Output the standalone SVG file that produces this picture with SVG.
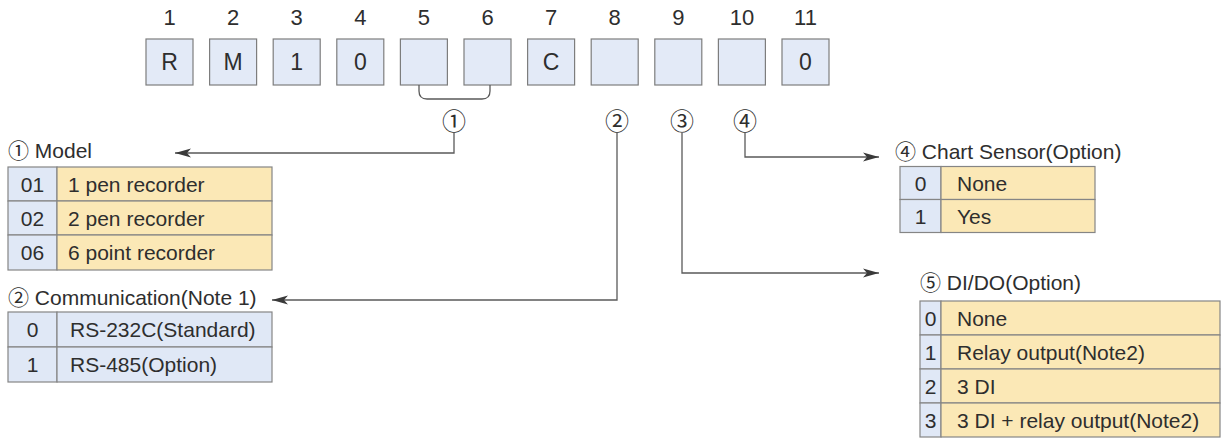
<svg xmlns="http://www.w3.org/2000/svg" width="1223" height="438" viewBox="0 0 1223 438">
<style>
text{font-family:"Liberation Sans","Noto Sans CJK JP",Arial,sans-serif;fill:#2e2e2e;}
.num{font-size:22px;text-anchor:middle;}
.bx{fill:#e3eaf7;stroke:#7d7d7d;stroke-width:1.2;}
.bl{font-size:23px;text-anchor:middle;}
.cn{font-size:24px;text-anchor:middle;font-family:"Noto Sans CJK JP",sans-serif;}
.lbl{font-size:21px;}
.t{font-size:21px;}
.c{font-size:21px;text-anchor:middle;}
.cb{fill:#e0e8f6;stroke:#858585;stroke-width:1.2;}
.cy{fill:#fbe8b6;stroke:#858585;stroke-width:1.2;}
.ln{fill:none;stroke:#5a5a5a;stroke-width:1.3;}
</style>
<defs>
<marker id="ah" viewBox="0 0 16 10" refX="16" refY="5" markerWidth="16" markerHeight="10" orient="auto" markerUnits="userSpaceOnUse"><path d="M0,0.5 L16,5 L0,9.5 L4,5 z" fill="#3a3a3a"/></marker>
</defs>

<g id="code">
<g id="pos1"><text class="num" x="169.5" y="25">1</text><rect class="bx" x="146" y="39" width="47" height="46"/><text class="bl" x="169.5" y="70">R</text></g>
<g id="pos2"><text class="num" x="233.1" y="25">2</text><rect class="bx" x="209.6" y="39" width="47" height="46"/><text class="bl" x="233.1" y="70">M</text></g>
<g id="pos3"><text class="num" x="296.7" y="25">3</text><rect class="bx" x="273.2" y="39" width="47" height="46"/><text class="bl" x="296.7" y="70">1</text></g>
<g id="pos4"><text class="num" x="360.3" y="25">4</text><rect class="bx" x="336.8" y="39" width="47" height="46"/><text class="bl" x="360.3" y="70">0</text></g>
<g id="pos5"><text class="num" x="423.9" y="25">5</text><rect class="bx" x="400.4" y="39" width="47" height="46"/></g>
<g id="pos6"><text class="num" x="487.5" y="25">6</text><rect class="bx" x="464" y="39" width="47" height="46"/></g>
<g id="pos7"><text class="num" x="551.1" y="25">7</text><rect class="bx" x="527.6" y="39" width="47" height="46"/><text class="bl" x="551.1" y="70">C</text></g>
<g id="pos8"><text class="num" x="614.7" y="25">8</text><rect class="bx" x="591.2" y="39" width="47" height="46"/></g>
<g id="pos9"><text class="num" x="678.3" y="25">9</text><rect class="bx" x="654.8" y="39" width="47" height="46"/></g>
<g id="pos10"><text class="num" x="741.9" y="25">10</text><rect class="bx" x="718.4" y="39" width="47" height="46"/></g>
<g id="pos11"><text class="num" x="805.5" y="25">11</text><rect class="bx" x="782" y="39" width="47" height="46"/><text class="bl" x="805.5" y="70">0</text></g>
</g>

<g id="markers">
<text class="cn" x="454" y="130">①</text>
<text class="cn" x="617" y="130">②</text>
<text class="cn" x="682" y="130">③</text>
<text class="cn" x="745" y="130">④</text>
</g>

<g id="connectors">
<path class="ln" d="M419,85 V91 Q419,99 427,99 H482 Q490,99 490,91 V85"/>
<path class="ln" d="M454,133 V153 H175" marker-end="url(#ah)"/>
<path class="ln" d="M617,133 V300 H272" marker-end="url(#ah)"/>
<path class="ln" d="M682,133 V273 H879" marker-end="url(#ah)"/>
<path class="ln" d="M745,133 V157 H879" marker-end="url(#ah)"/>
</g>

<g id="model">
<text class="lbl" x="8" y="158">① Model</text>
<rect class="cb" x="8" y="167" width="49" height="34"/><rect class="cy" x="57" y="167" width="215" height="34"/>
<rect class="cb" x="8" y="201" width="49" height="34"/><rect class="cy" x="57" y="201" width="215" height="34"/>
<rect class="cb" x="8" y="235" width="49" height="35"/><rect class="cy" x="57" y="235" width="215" height="35"/>
<text class="c" x="32.5" y="191.5">01</text><text class="t" x="68" y="191.5">1 pen recorder</text>
<text class="c" x="32.5" y="225.5">02</text><text class="t" x="68" y="225.5">2 pen recorder</text>
<text class="c" x="32.5" y="260">06</text><text class="t" x="68" y="260">6 point recorder</text>
</g>

<g id="communication">
<text class="lbl" x="8" y="305">② Communication(Note 1)</text>
<rect class="cb" x="8" y="312" width="49" height="35"/><rect class="cb" x="57" y="312" width="215" height="35"/>
<rect class="cb" x="8" y="347" width="49" height="35"/><rect class="cb" x="57" y="347" width="215" height="35"/>
<text class="c" x="32.5" y="337">0</text><text class="t" x="70" y="337">RS-232C(Standard)</text>
<text class="c" x="32.5" y="372">1</text><text class="t" x="70" y="372">RS-485(Option)</text>
</g>

<g id="chartsensor">
<text class="lbl" x="895" y="159">④ Chart Sensor(Option)</text>
<rect class="cb" x="900" y="166.5" width="41" height="33"/><rect class="cy" x="941" y="166.5" width="154" height="33"/>
<rect class="cb" x="900" y="199.5" width="41" height="33"/><rect class="cy" x="941" y="199.5" width="154" height="33"/>
<text class="c" x="920.5" y="190.5">0</text><text class="t" x="957" y="190.5">None</text>
<text class="c" x="920.5" y="223.5">1</text><text class="t" x="957" y="223.5">Yes</text>
</g>

<g id="dido">
<text class="lbl" x="920" y="290">⑤ DI/DO(Option)</text>
<rect class="cb" x="920" y="301" width="21" height="34"/><rect class="cy" x="941" y="301" width="279" height="34"/>
<rect class="cb" x="920" y="335" width="21" height="34"/><rect class="cy" x="941" y="335" width="279" height="34"/>
<rect class="cb" x="920" y="369" width="21" height="34"/><rect class="cy" x="941" y="369" width="279" height="34"/>
<rect class="cb" x="920" y="403" width="21" height="34"/><rect class="cy" x="941" y="403" width="279" height="34"/>
<text class="c" x="930.5" y="325.5">0</text><text class="t" x="957" y="325.5">None</text>
<text class="c" x="930.5" y="359.5">1</text><text class="t" x="957" y="359.5">Relay output(Note2)</text>
<text class="c" x="930.5" y="393.5">2</text><text class="t" x="957" y="393.5">3 DI</text>
<text class="c" x="930.5" y="427.5">3</text><text class="t" x="957" y="427.5">3 DI + relay output(Note2)</text>
</g>
</svg>
